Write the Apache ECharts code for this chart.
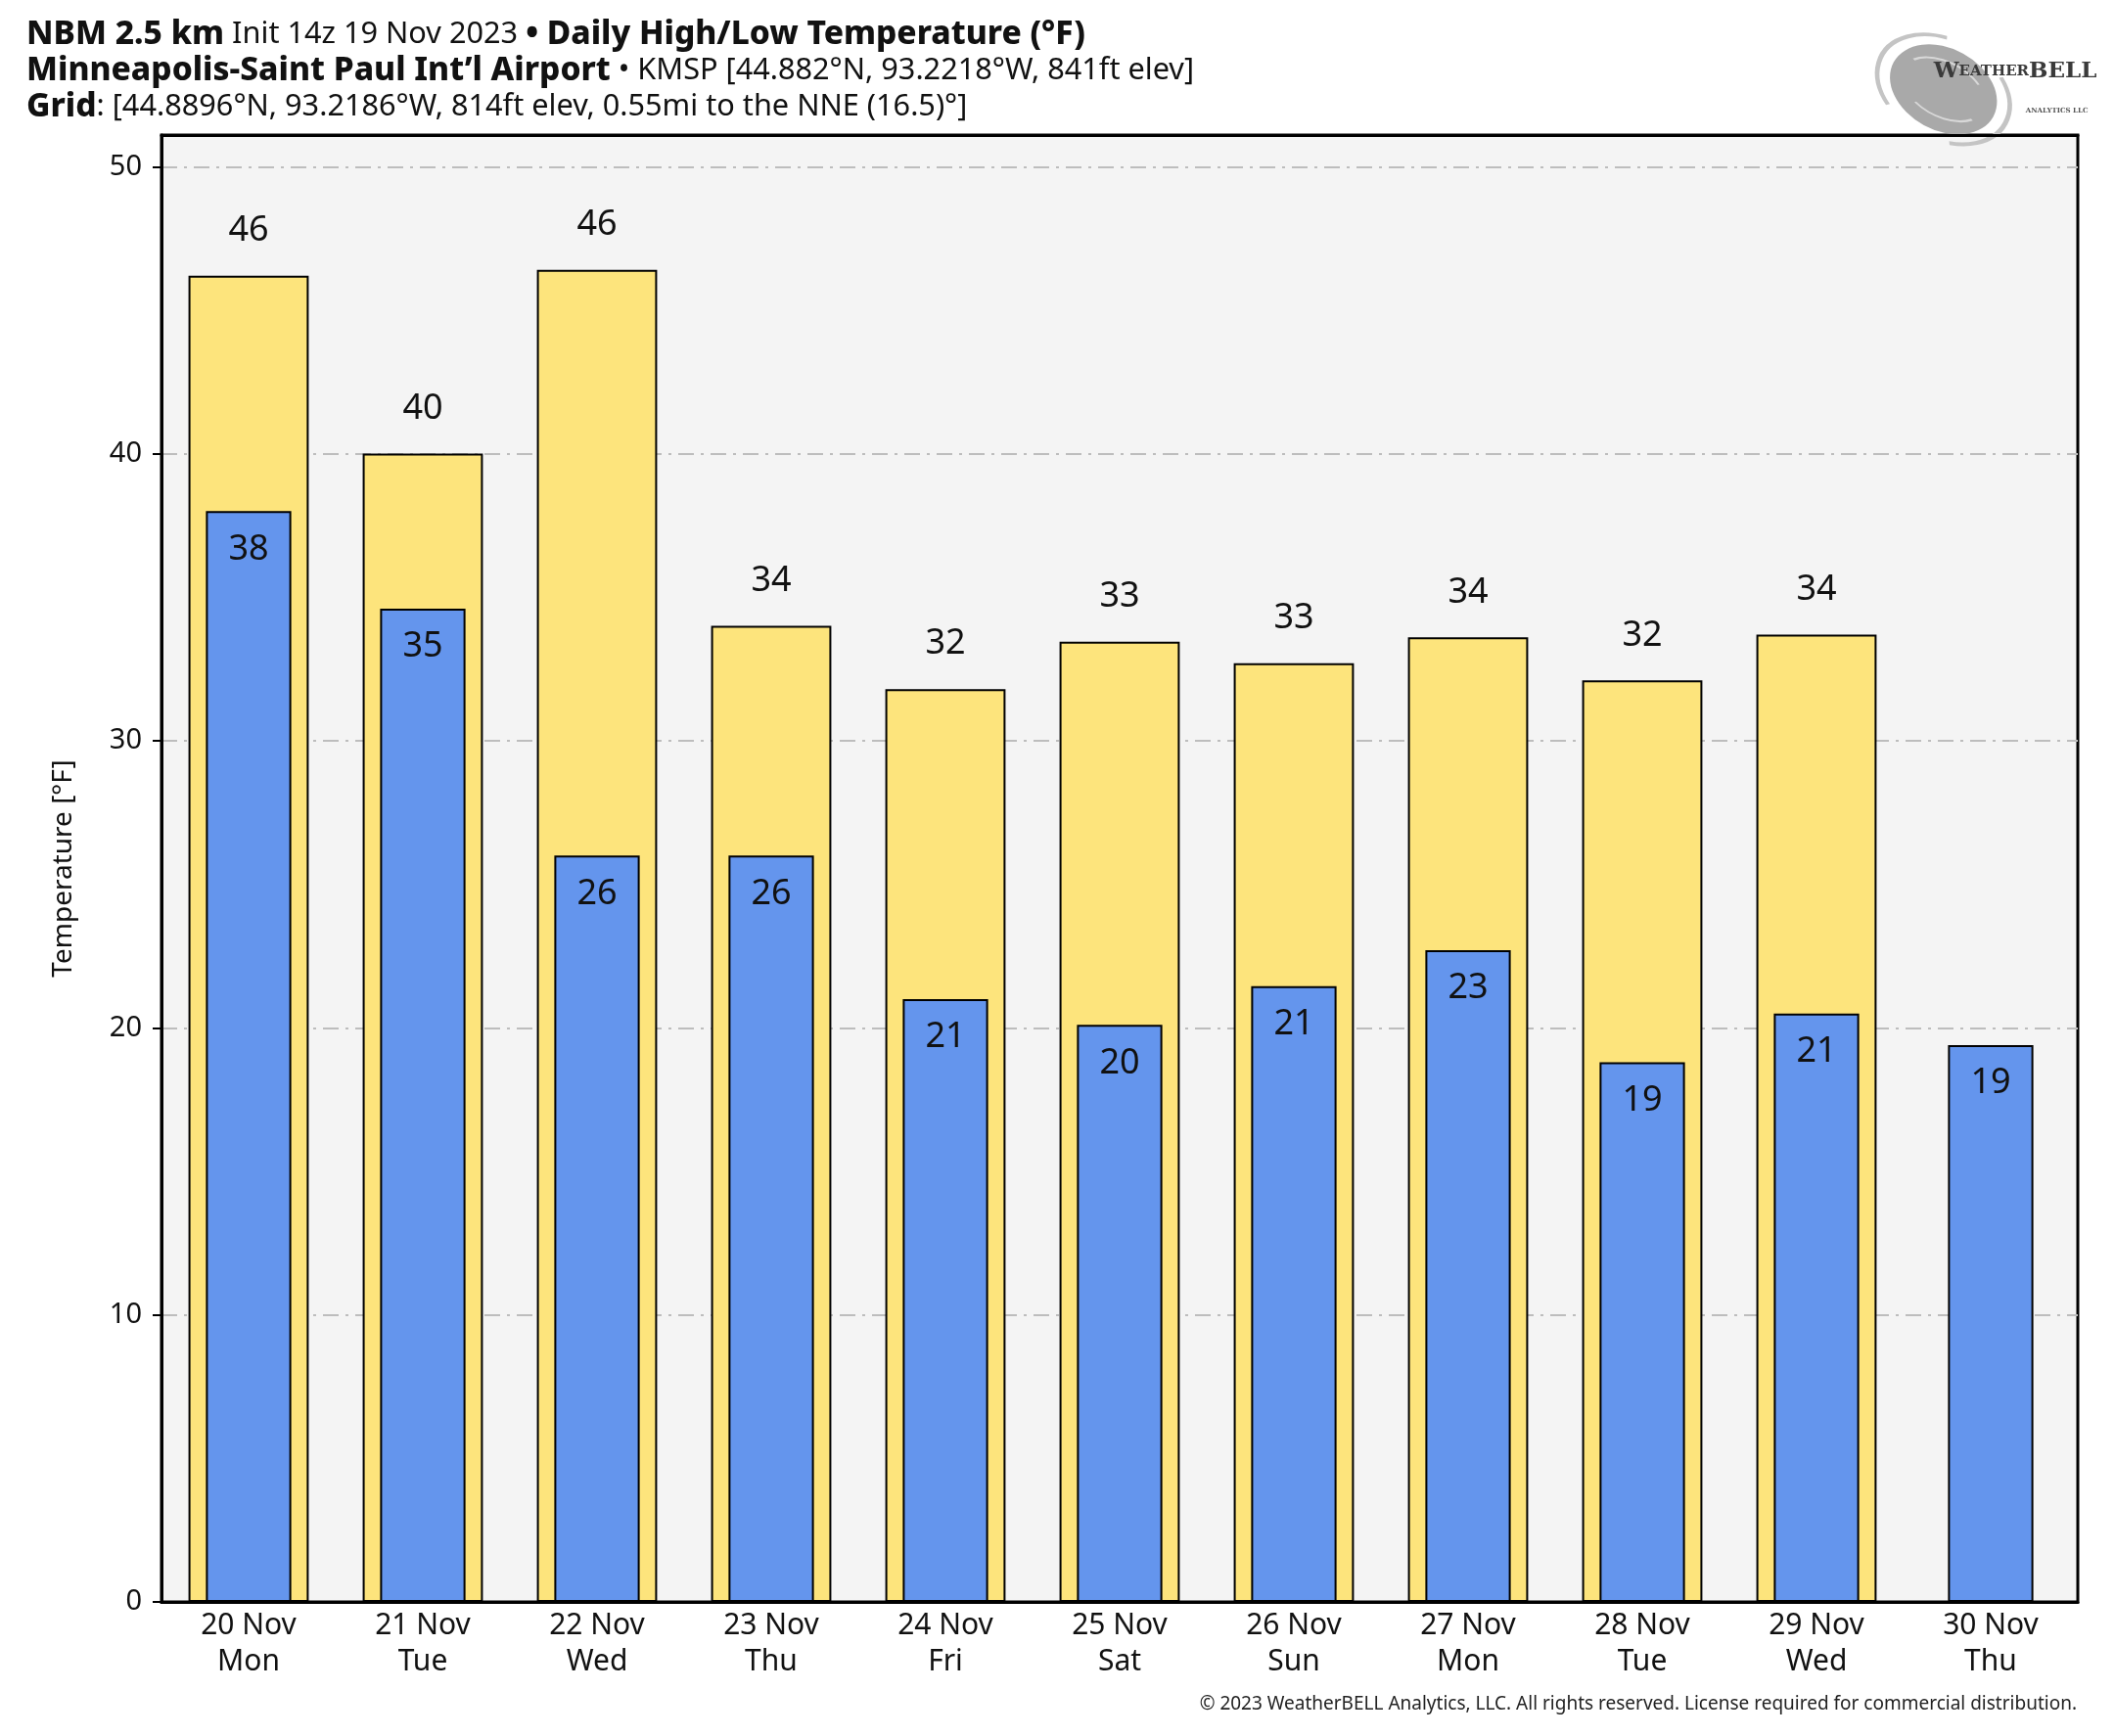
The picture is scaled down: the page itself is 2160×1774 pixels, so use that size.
<!DOCTYPE html>
<html>
<head>
<meta charset="utf-8">
<script src="https://cdn.jsdelivr.net/npm/echarts@6/dist/echarts.min.js"></script>
<style>
html,body{margin:0;padding:0;background:#fff;}
#chart{width:2160px;height:1774px;}
</style>
</head>
<body>
<div id="chart"></div>
<script>
const categories = ['20 Nov\nMon','21 Nov\nTue','22 Nov\nWed','23 Nov\nThu','24 Nov\nFri','25 Nov\nSat','26 Nov\nSun','27 Nov\nMon','28 Nov\nTue','29 Nov\nWed','30 Nov\nThu'];
const highs = [46.2, 40.0, 46.4, 34.0, 31.8, 33.45, 32.7, 33.6, 32.1, 33.7, null];
const lows = [38.0, 34.6, 26.0, 26.0, 21.0, 20.1, 21.45, 22.7, 18.8, 20.5, 19.4];
const yTicks = [0, 10, 20, 30, 40, 50];

const FONT = 'Noto Sans';
const chart = echarts.init(document.getElementById('chart'), null, {renderer: 'canvas'});

const option = {
  backgroundColor: '#ffffff',
  animation: false,
  textStyle: {fontFamily: FONT},
  title: {
    left: 22, top: 12,
    text: '{b|NBM 2.5 km} {n|Init 14z 19 Nov 2023} {b|• Daily High/Low Temperature (°F)}\n' +
          '{b|Minneapolis-Saint Paul Int\u2019l Airport} {n|• KMSP [44.882°N, 93.2218°W, 841ft elev]}\n' +
          '{b|Grid}{n|: [44.8896°N, 93.2186°W, 814ft elev, 0.55mi to the NNE (16.5)°]}',
    textStyle: {
      fontFamily: FONT, fontSize: 31, color: '#111', lineHeight: 37,
      rich: {
        b: {fontFamily: FONT, fontSize: 33.5, fontWeight: 800, color: '#111', lineHeight: 37},
        n: {fontFamily: FONT, fontSize: 30.7, fontWeight: 'normal', color: '#111', lineHeight: 37}
      }
    }
  },
  graphic: [
    {
      type: 'text', right: 38, top: 1732,
      style: {text: '© 2023 WeatherBELL Analytics, LLC. All rights reserved. License required for commercial distribution.',
              font: '19px "Noto Sans"', fill: '#222'}
    },
    {
      type: 'group', left: 1900, top: 12,
      children: [
        {type: 'arc', x: 72, y: 54, scaleX: 1.0, scaleY: 0.7, rotation: -0.5,
         shape: {cx: 0, cy: 0, r: 72, startAngle: 2.2, endAngle: 4.4}, style: {stroke: '#c4c4c4', lineWidth: 5, fill: null}},
        {type: 'arc', x: 72, y: 54, scaleX: 1.0, scaleY: 0.7, rotation: -0.5,
         shape: {cx: 0, cy: 0, r: 72, startAngle: 5.4, endAngle: 7.4}, style: {stroke: '#c4c4c4', lineWidth: 5, fill: null}},
        {type: 'circle', x: 72, y: 54, scaleX: 1.0, scaleY: 0.72, rotation: -0.5,
         shape: {cx: 0, cy: 0, r: 58}, style: {fill: '#a9a9a9'}},
        {type: 'arc', x: 72, y: 54, scaleX: 1.0, scaleY: 0.6, rotation: -0.5,
         shape: {cx: 0, cy: 0, r: 46, startAngle: 3.6, endAngle: 5.4}, style: {stroke: '#d8d8d8', lineWidth: 3, fill: null}},
        {type: 'arc', x: 72, y: 54, scaleX: 1.0, scaleY: 0.6, rotation: -0.5,
         shape: {cx: 0, cy: 0, r: 46, startAngle: 0.5, endAngle: 2.0}, style: {stroke: '#d8d8d8', lineWidth: 3, fill: null}},
        {type: 'text', x: 62, y: 47,
         style: {
           text: '{a|W}{c|EATHER}{a|BELL}',
           rich: {
             a: {fontFamily: 'DejaVu Serif', fontSize: 23, fill: '#3a3a3a', fontWeight: 'bold'},
             c: {fontFamily: 'DejaVu Serif', fontSize: 15, fill: '#3a3a3a', fontWeight: 'bold'}
           },
           verticalAlign: 'bottom'
         }},
        {type: 'text', x: 156, y: 72,
         style: {text: 'ANALYTICS LLC', font: 'bold 7px "DejaVu Serif"', fill: '#555'}}
      ]
    }
  ],
  grid: {
    left: 165, right: 37, top: 138, bottom: 137,
    show: true, backgroundColor: '#f4f4f4', borderColor: '#000', borderWidth: 3
  },
  xAxis: [
    {
      type: 'category', data: categories, position: 'bottom',
      axisLine: {show: true, lineStyle: {color: '#000', width: 3}},
      axisTick: {show: false},
      axisLabel: {fontFamily: FONT, fontSize: 30, color: '#111', lineHeight: 37, margin: 6, interval: 0},
      splitLine: {show: false}
    },
    {
      type: 'category', data: categories, position: 'top',
      axisLine: {show: true, lineStyle: {color: '#000', width: 3}},
      axisTick: {show: false}, axisLabel: {show: false}, splitLine: {show: false}
    }
  ],
  yAxis: {
    type: 'value', min: 0, max: 51.1, interval: 10,
    name: 'Temperature [°F]', nameLocation: 'middle', nameGap: 86, nameRotate: 90,
    nameTextStyle: {fontFamily: FONT, fontSize: 28, color: '#111'},
    axisLine: {show: true, lineStyle: {color: '#000', width: 3}},
    axisTick: {show: true, length: 9, lineStyle: {color: '#000', width: 2}},
    axisLabel: {
      fontFamily: FONT, fontSize: 29, color: '#111', margin: 20, showMaxLabel: false,
      formatter: function (v) { return yTicks.indexOf(v) >= 0 ? String(v) : ''; }
    },
    splitLine: {show: true, showMaxLine: false, showMinLine: false,
                lineStyle: {color: '#bdbdbd', width: 2, type: [16, 7, 3, 7]}}
  },
  series: [
    {
      name: 'High', type: 'bar', xAxisIndex: 0, data: highs, barWidth: '69%',
      itemStyle: {color: '#fde47c', borderColor: '#000', borderWidth: 2},
      label: {show: true, position: 'top', distance: 28, fontFamily: FONT, fontSize: 36, color: '#111',
              formatter: function (p) { return Math.round(p.value); }}
    },
    {
      name: 'Low', type: 'bar', xAxisIndex: 1, data: lows, barWidth: '49%',
      itemStyle: {color: '#6495ed', borderColor: '#000', borderWidth: 2},
      label: {show: true, position: 'insideTop', distance: 21, fontFamily: FONT, fontSize: 36, color: '#111',
              formatter: function (p) { return Math.round(p.value); }}
    }
  ]
};
chart.setOption(option);
</script>
</body>
</html>
